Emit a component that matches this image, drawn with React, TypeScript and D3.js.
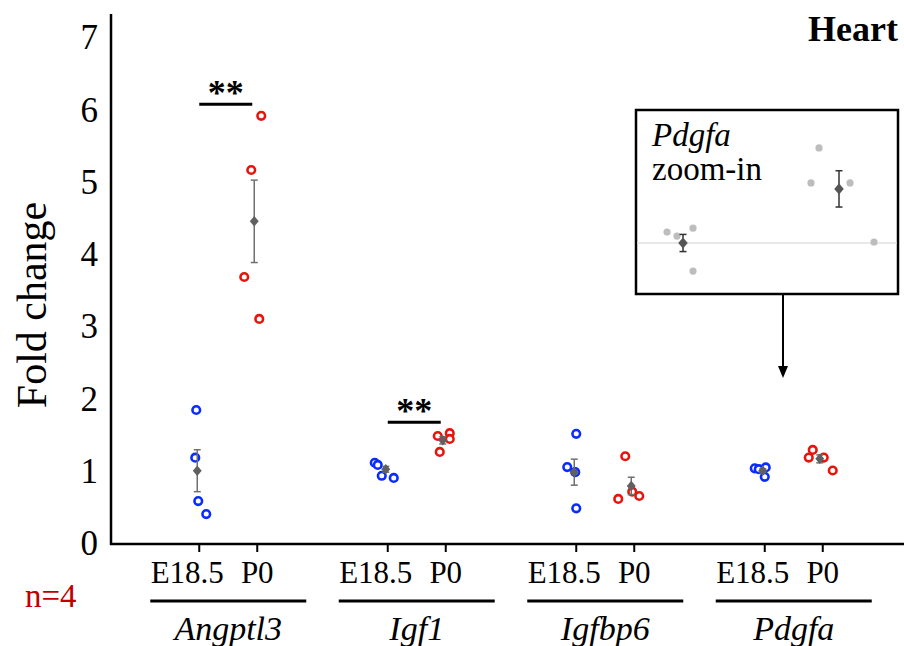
import React, { useEffect, useRef } from 'react';
import * as d3 from 'd3';

// genes and stages
const genes = ['Angptl3', 'Igf1', 'Igfbp6', 'Pdgfa'];
const stages = ['E18.5', 'P0'];
const yTicks = [0, 1, 2, 3, 4, 5, 6, 7];

// individual fold-change values (n=4)
const e185Values = [
  [1.84, 1.18, 0.58, 0.40],
  [1.11, 1.08, 0.93, 0.90],
  [1.51, 1.05, 0.98, 0.48],
  [1.033, 1.021, 1.045, 0.915],
];
const p0Values = [
  [5.91, 5.16, 3.68, 3.10],
  [1.48, 1.52, 1.44, 1.26],
  [1.20, 0.61, 0.71, 0.65],
  [1.288, 1.182, 1.182, 1.003],
];
// horizontal jitter of each dot (px)
const e185Jitter = [
  [-3, -4, -1, 7],
  [-13, -10, -6, 6],
  [0, -9, -1, 0],
  [-10, -6, 1, 0],
];
const p0Jitter = [
  [4, -6, -13, 2],
  [-8, 4, 4, -6],
  [-9, -16, -2, 5],
  [-10, -14, 1, 10],
];

// mean +/- SEM
const e185Mean = [1.0, 1.02, 0.98, 1.0];
const e185Sem = [0.29, 0.04, 0.18, 0.026];
const p0Mean = [4.45, 1.42, 0.79, 1.164];
const p0Sem = [0.57, 0.05, 0.12, 0.055];

// significance brackets
const sigGenes = ['Angptl3', 'Igf1'];
const sigLevels = [6.07, 1.67];

// zoom-in inset (Pdgfa)
const insetJitterE = [-16, -6, 10, 10];
const insetJitterP = [-20, -28, 11, 35];

const BLUE = '#0a2cff';
const RED = '#e8140c';
const FONT = '"Liberation Serif", "Times New Roman", serif';

function Chart() {
  const ref = useRef<SVGSVGElement>(null);

  useEffect(() => {
    const width = 904;
    const height = 646;
    const svg = d3.select(ref.current)
      .attr('width', width)
      .attr('height', height)
      .style('font-family', FONT);
    svg.selectAll('*').remove();

    const x = d3.scaleBand().domain(genes).range([134, 888]).padding(0);
    const xs = d3.scalePoint().domain(stages).range([0, x.bandwidth()]).padding(1.125);
    const y = d3.scaleLinear().domain([0, 7]).range([543, 37]);
    const stageX = (g: string, s: string) => (x(g) as number) + (xs(s) as number);
    const center = (g: string) => (x(g) as number) + x.bandwidth() / 2;

    // axes
    svg.append('line')
      .attr('x1', 111).attr('x2', 111).attr('y1', 14).attr('y2', 545)
      .attr('stroke', '#000').attr('stroke-width', 2.5);
    svg.append('line')
      .attr('x1', 110).attr('x2', 904).attr('y1', 544).attr('y2', 544)
      .attr('stroke', '#000').attr('stroke-width', 2.5);

    svg.append('g')
      .selectAll('text')
      .data(yTicks)
      .join('text')
      .attr('x', 98)
      .attr('y', d => y(d))
      .attr('dy', '0.35em')
      .attr('text-anchor', 'end')
      .attr('font-size', 35)
      .text(d => d);

    svg.append('text')
      .attr('transform', 'translate(46,305) rotate(-90)')
      .attr('text-anchor', 'middle')
      .attr('font-size', 42)
      .text('Fold change');

    // x ticks + stage labels
    const cats = genes.flatMap(g => stages.map(s => ({ g, s })));
    svg.append('g')
      .selectAll('line')
      .data(cats)
      .join('line')
      .attr('x1', d => stageX(d.g, d.s)).attr('x2', d => stageX(d.g, d.s))
      .attr('y1', 544).attr('y2', 552)
      .attr('stroke', '#000').attr('stroke-width', 2);
    svg.append('g')
      .selectAll('text')
      .data(cats)
      .join('text')
      .attr('x', d => stageX(d.g, d.s) + (d.s === 'P0' ? 0 : -12))
      .attr('y', 583)
      .attr('text-anchor', 'middle')
      .attr('font-size', 31)
      .text(d => d.s);

    svg.append('g')
      .selectAll('line')
      .data(genes)
      .join('line')
      .attr('x1', d => center(d) - 78).attr('x2', d => center(d) + 78)
      .attr('y1', 601).attr('y2', 601)
      .attr('stroke', '#000').attr('stroke-width', 3);
    svg.append('g')
      .selectAll('text')
      .data(genes)
      .join('text')
      .attr('x', d => center(d))
      .attr('y', 640)
      .attr('text-anchor', 'middle')
      .attr('font-size', 34)
      .attr('font-style', 'italic')
      .text(d => d);

    svg.append('text')
      .attr('x', 25).attr('y', 607)
      .attr('font-size', 33)
      .attr('fill', '#c00000')
      .text('n=4');

    svg.append('text')
      .attr('x', 898).attr('y', 41)
      .attr('text-anchor', 'end')
      .attr('font-size', 36)
      .attr('font-weight', 'bold')
      .text('Heart');

    // dots
    const dots = genes.flatMap((g, i) => [
      ...e185Values[i].map((v, j) => ({ v, cx: stageX(g, 'E18.5') + e185Jitter[i][j], c: BLUE })),
      ...p0Values[i].map((v, j) => ({ v, cx: stageX(g, 'P0') + p0Jitter[i][j], c: RED })),
    ]);
    svg.append('g')
      .selectAll('circle')
      .data(dots)
      .join('circle')
      .attr('cx', d => d.cx)
      .attr('cy', d => y(d.v))
      .attr('r', 3.8)
      .attr('fill', '#fff')
      .attr('stroke', d => d.c)
      .attr('stroke-width', 2.6);

    // mean +/- SEM
    const stats = genes.flatMap((g, i) => [
      { cx: stageX(g, 'E18.5') - 2, m: e185Mean[i], s: e185Sem[i] },
      { cx: stageX(g, 'P0') - 3, m: p0Mean[i], s: p0Sem[i] },
    ]);
    const sg = svg.append('g');
    stats.forEach(d => {
      const g = sg.append('g').attr('stroke', '#707070').attr('stroke-width', 1.5);
      g.append('line').attr('x1', d.cx).attr('x2', d.cx).attr('y1', y(d.m + d.s)).attr('y2', y(d.m - d.s));
      g.append('line').attr('x1', d.cx - 3.5).attr('x2', d.cx + 3.5).attr('y1', y(d.m + d.s)).attr('y2', y(d.m + d.s));
      g.append('line').attr('x1', d.cx - 3.5).attr('x2', d.cx + 3.5).attr('y1', y(d.m - d.s)).attr('y2', y(d.m - d.s));
    });
    sg.selectAll('path.mean')
      .data(stats)
      .join('path')
      .attr('class', 'mean')
      .attr('d', d3.symbol(d3.symbolDiamond2, 70))
      .attr('transform', d => `translate(${d.cx},${y(d.m)}) scale(0.85,1)`)
      .attr('fill', '#606060');

    // significance
    sigGenes.forEach((g, i) => {
      const x1 = stageX(g, 'E18.5');
      const x2 = stageX(g, 'P0') - 5;
      svg.append('line')
        .attr('x1', x1).attr('x2', x2)
        .attr('y1', y(sigLevels[i])).attr('y2', y(sigLevels[i]))
        .attr('stroke', '#000').attr('stroke-width', 3);
      svg.append('text')
        .attr('x', (x1 + x2) / 2)
        .attr('y', y(sigLevels[i]) + 1)
        .attr('text-anchor', 'middle')
        .attr('font-size', 36)
        .attr('font-weight', 'bold')
        .text('**');
    });

    // inset
    const ix = d3.scalePoint().domain(stages).range([683, 839]);
    const iy = d3.scaleLinear().domain([1, 1.3]).range([243, 144]);
    const pi = genes.indexOf('Pdgfa');
    const inset = svg.append('g');
    inset.append('rect')
      .attr('x', 636).attr('y', 110).attr('width', 262).attr('height', 184)
      .attr('fill', '#fff').attr('stroke', '#000').attr('stroke-width', 2.5);
    inset.append('line')
      .attr('x1', 637).attr('x2', 897).attr('y1', iy(1)).attr('y2', iy(1))
      .attr('stroke', '#e0e0e0').attr('stroke-width', 1.5);
    const idots = [
      ...e185Values[pi].map((v, j) => ({ v, cx: (ix('E18.5') as number) + insetJitterE[j] })),
      ...p0Values[pi].map((v, j) => ({ v, cx: (ix('P0') as number) + insetJitterP[j] })),
    ];
    inset.selectAll('circle')
      .data(idots)
      .join('circle')
      .attr('cx', d => d.cx)
      .attr('cy', d => iy(d.v))
      .attr('r', 3.6)
      .attr('fill', '#bdbdbd');
    const istats = [
      { cx: ix('E18.5') as number, m: e185Mean[pi], s: e185Sem[pi] },
      { cx: ix('P0') as number, m: p0Mean[pi], s: p0Sem[pi] },
    ];
    istats.forEach(d => {
      const g = inset.append('g').attr('stroke', '#333').attr('stroke-width', 1.5);
      g.append('line').attr('x1', d.cx).attr('x2', d.cx).attr('y1', iy(d.m + d.s)).attr('y2', iy(d.m - d.s));
      g.append('line').attr('x1', d.cx - 3.5).attr('x2', d.cx + 3.5).attr('y1', iy(d.m + d.s)).attr('y2', iy(d.m + d.s));
      g.append('line').attr('x1', d.cx - 3.5).attr('x2', d.cx + 3.5).attr('y1', iy(d.m - d.s)).attr('y2', iy(d.m - d.s));
      inset.append('path')
        .attr('d', d3.symbol(d3.symbolDiamond2, 80))
        .attr('transform', `translate(${d.cx},${iy(d.m)}) scale(0.85,1)`)
        .attr('fill', '#555');
    });
    inset.append('text')
      .attr('x', 652).attr('y', 146)
      .attr('font-size', 33).attr('font-style', 'italic')
      .text('Pdgfa');
    inset.append('text')
      .attr('x', 652).attr('y', 180)
      .attr('font-size', 33)
      .text('zoom-in');

    // arrow
    svg.append('line')
      .attr('x1', 783).attr('x2', 783).attr('y1', 295).attr('y2', 368)
      .attr('stroke', '#000').attr('stroke-width', 2);
    svg.append('path')
      .attr('d', 'M778,366 L788,366 L783,378 Z')
      .attr('fill', '#000');
  }, []);

  return <svg ref={ref} style={{ position: 'absolute', left: 0, top: 0 }} />;
}

export default function App() {
  return <Chart />;
}
